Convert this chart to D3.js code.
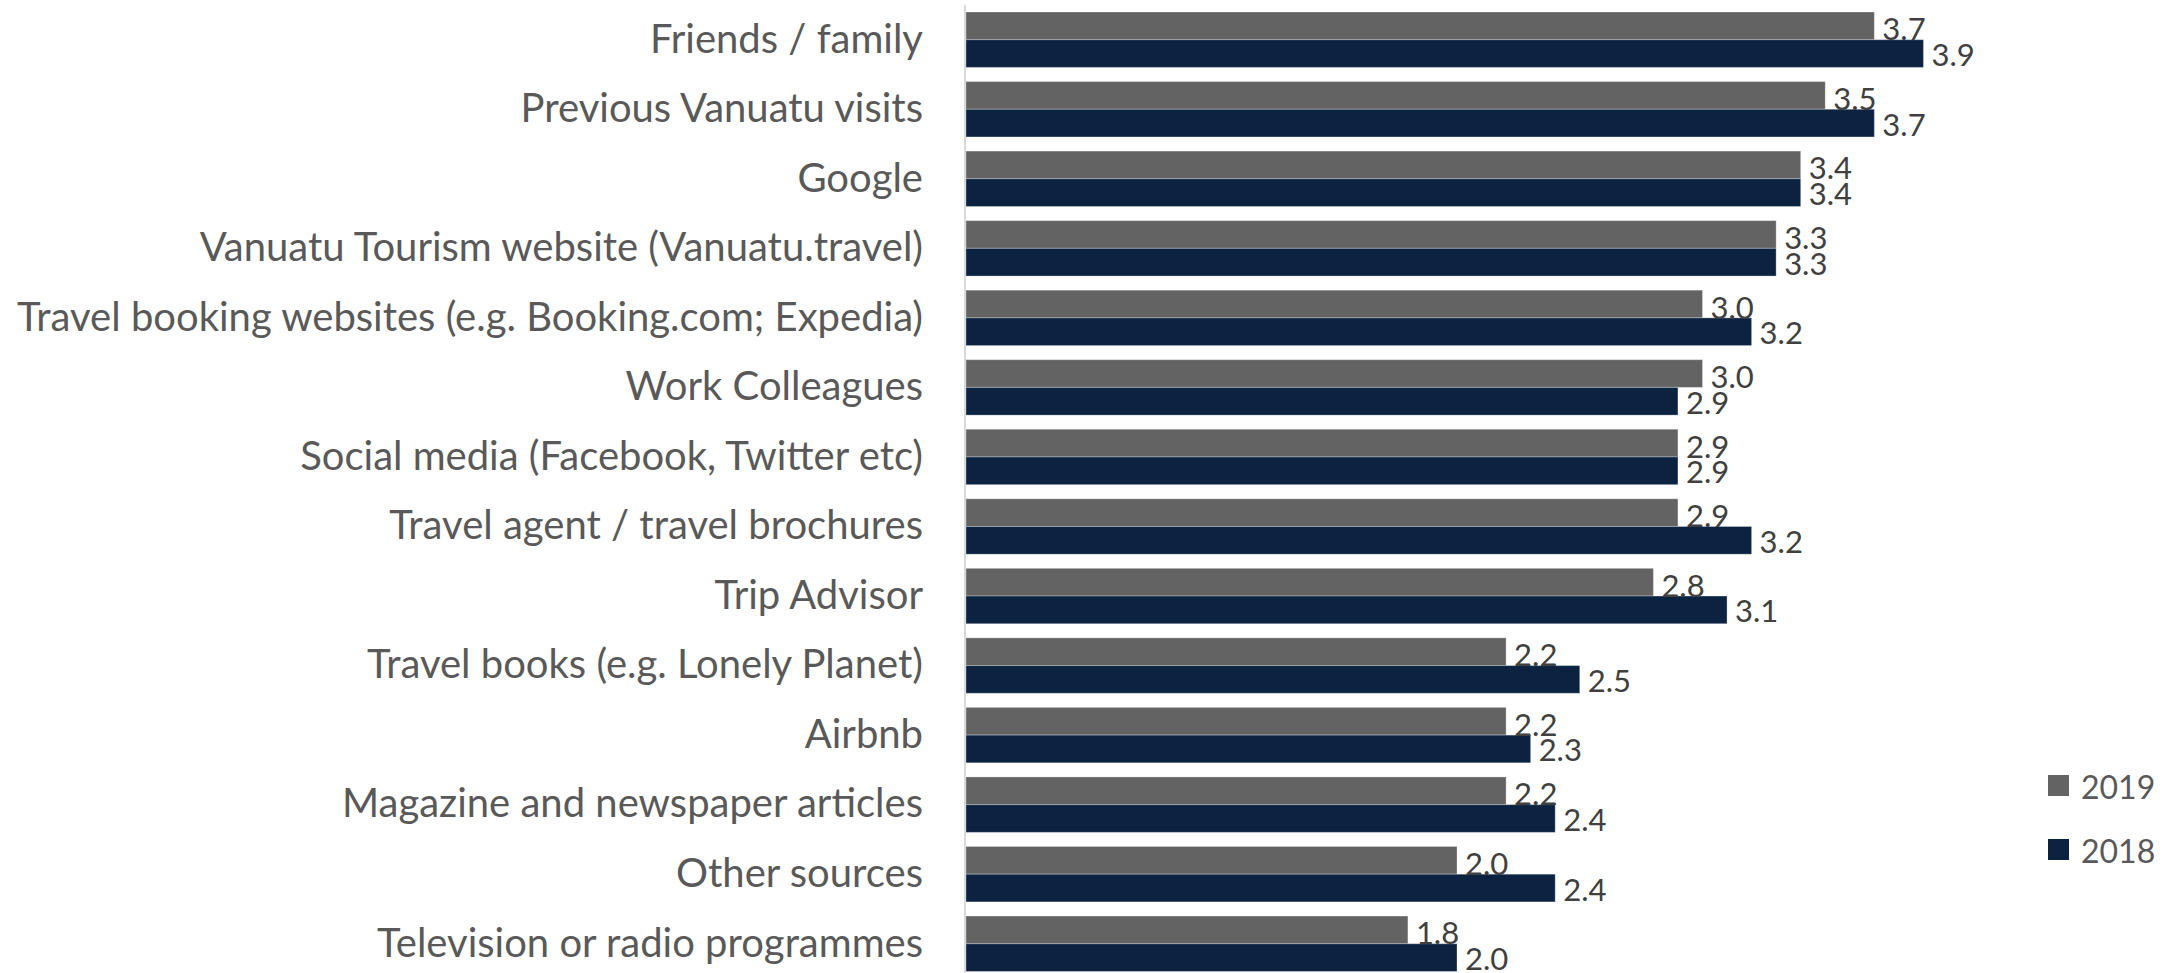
<!DOCTYPE html>
<html><head><meta charset="utf-8">
<script src="https://cdn.jsdelivr.net/npm/d3@7"></script>
<style>
  body { margin: 0; background: #fff; }
  text { font-family: "Lato", "Open Sans", sans-serif; }
</style>
</head>
<body>
<svg id="chart" width="2171" height="973"></svg>
<script>
// Information sources rated by visitors, 2019 vs 2018
const categories = [
  "Friends / family",
  "Previous Vanuatu visits",
  "Google",
  "Vanuatu Tourism website (Vanuatu.travel)",
  "Travel booking websites (e.g. Booking.com; Expedia)",
  "Work Colleagues",
  "Social media (Facebook, Twitter etc)",
  "Travel agent / travel brochures",
  "Trip Advisor",
  "Travel books (e.g. Lonely Planet)",
  "Airbnb",
  "Magazine and newspaper articles",
  "Other sources",
  "Television or radio programmes"
];
const seriesNames = ["2019", "2018"];
const values2019 = [3.7, 3.5, 3.4, 3.3, 3.0, 3.0, 2.9, 2.9, 2.8, 2.2, 2.2, 2.2, 2.0, 1.8];
const values2018 = [3.9, 3.7, 3.4, 3.3, 3.2, 2.9, 2.9, 3.2, 3.1, 2.5, 2.3, 2.4, 2.4, 2.0];
const seriesColors = ["#636363", "#0b2341"];
// vertical nudge of each series' value label relative to its bar centre
const labelShift = [2.5, 0.5];

const series = [values2019, values2018];
const rows = categories.map((c, i) => ({
  category: c,
  bars: seriesNames.map((s, k) => ({ series: s, k, value: series[k][i], color: seriesColors[k] }))
}));

const svg = d3.select("#chart");

const x = d3.scaleLinear().domain([0, 4.5]).range([966, 966 + 4.5 * 245.5]);
const y = d3.scaleBand().domain(categories).range([4.94, 978.5])
  .paddingInner(0.203).paddingOuter(0.1015);
const yInner = d3.scaleBand().domain(seriesNames).range([0, y.bandwidth()]);

// Bars
const groups = svg.append("g").selectAll("g")
  .data(rows).join("g")
  .attr("transform", d => `translate(0,${y(d.category)})`);

groups.selectAll("rect")
  .data(d => d.bars).join("rect")
  .attr("x", x(0))
  .attr("y", d => yInner(d.series))
  .attr("width", d => x(d.value) - x(0))
  .attr("height", yInner.bandwidth())
  .attr("fill", d => d.color)
  .attr("stroke", "#ffffff")
  .attr("stroke-opacity", 0.3)
  .attr("stroke-width", 1);

// Data labels
groups.selectAll("text.val")
  .data(d => d.bars).join("text")
  .attr("class", "val")
  .attr("x", d => x(d.value) + 8)
  .attr("y", d => yInner(d.series) + yInner.bandwidth() / 2 + labelShift[d.k])
  .attr("dominant-baseline", "central")
  .attr("font-size", 31)
  .attr("fill", "#404040")
  .text(d => d3.format(".1f")(d.value));

// Category axis
const yAxis = svg.append("g")
  .attr("transform", `translate(${x(0) - 1},0)`)
  .call(d3.axisLeft(y).tickSize(0).tickPadding(42));
yAxis.select(".domain")
  .attr("d", `M0,5V973`)
  .attr("stroke", "#d9d9d9")
  .attr("stroke-width", 2);
yAxis.selectAll(".tick text")
  .attr("font-size", 40)
  .attr("fill", "#595959")
  .style("font-family", "Lato, 'Open Sans', sans-serif");

// Legend
const legend = svg.append("g").selectAll("g")
  .data(seriesNames).join("g")
  .attr("transform", (d, i) => `translate(2048,${775 + i * 64})`);
legend.append("rect")
  .attr("width", 21).attr("height", 21)
  .attr("fill", (d, i) => seriesColors[i]);
legend.append("text")
  .attr("x", 33).attr("y", 11)
  .attr("dominant-baseline", "central")
  .attr("font-size", 32)
  .attr("fill", "#595959")
  .text(d => d);
</script>
</body></html>
